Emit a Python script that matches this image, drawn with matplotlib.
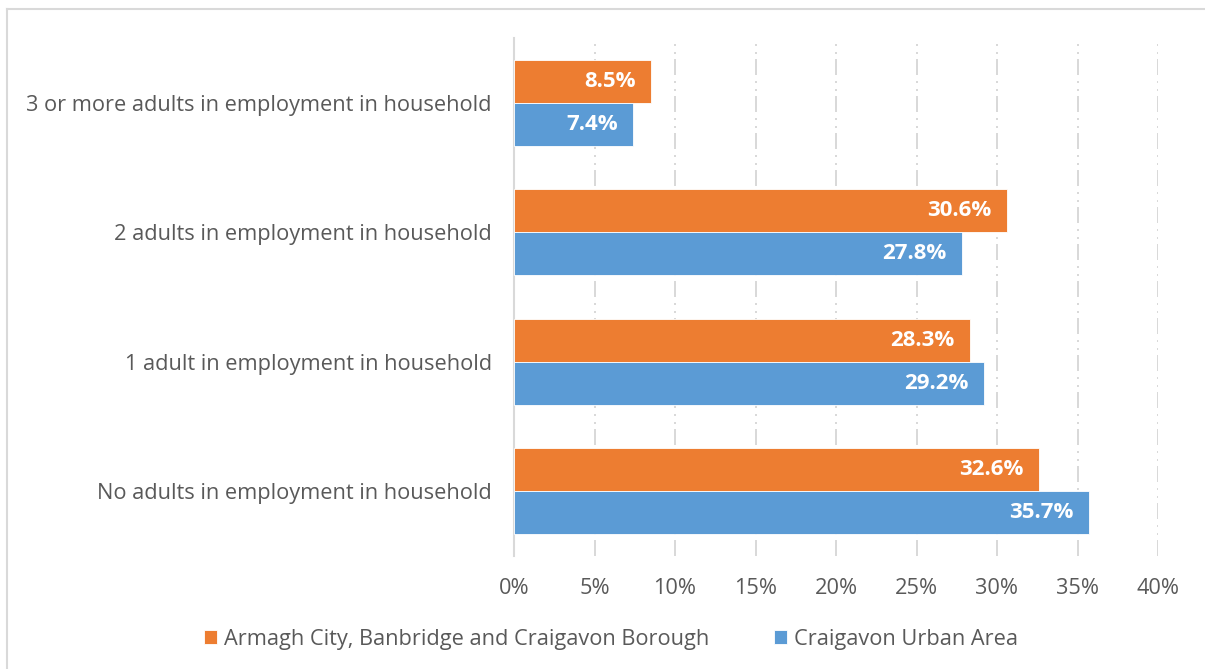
import matplotlib.pyplot as plt
from matplotlib.lines import Line2D
import numpy as np

categories = ["No adults in employment in household",
              "1 adult in employment in household",
              "2 adults in employment in household",
              "3 or more adults in employment in household"]
armagh = [32.6, 28.3, 30.6, 8.5]
craigavon = [35.7, 29.2, 27.8, 7.4]
series_names = ["Armagh City, Banbridge and Craigavon Borough", "Craigavon Urban Area"]
xticks = [0, 5, 10, 15, 20, 25, 30, 35, 40]

orange = "#ED7D31"
blue = "#5B9BD5"
grey_txt = "#595959"
grid_col = "#D9D9D9"

plt.rcParams['font.family'] = ['Open Sans', 'DejaVu Sans']

fig = plt.figure(figsize=(12.05, 6.69), dpi=100)
ax = fig.add_axes([514 / 1205, 1 - 556 / 669, (1158 - 514) / 1205, (556 - 38) / 669])

y = np.arange(len(categories))
h = 0.333
b1 = ax.barh(y + h / 2, armagh, height=h, color=orange, edgecolor="white", linewidth=0.6,
             label=series_names[0], zorder=3)
b2 = ax.barh(y - h / 2, craigavon, height=h, color=blue, edgecolor="white", linewidth=0.6,
             label=series_names[1], zorder=3)

for bars, vals in ((b1, armagh), (b2, craigavon)):
    for bar, v in zip(bars, vals):
        ax.annotate("%.1f%%" % v, (v, bar.get_y() + bar.get_height() / 2),
                    xytext=(-11, 0), textcoords="offset points", ha="right", va="center",
                    color="white", fontsize=16, fontweight="bold", zorder=4)

ax.set_xlim(0, 40)
ax.set_ylim(-0.5, len(categories) - 0.5)
ax.set_xticks(xticks)
ax.set_xticklabels(["%d%%" % t for t in xticks])
ax.set_yticks(y)
ax.set_yticklabels(categories)
ax.tick_params(axis="both", length=0, labelsize=15.7, colors=grey_txt)
ax.tick_params(axis="x", pad=16)
ax.tick_params(axis="y", pad=16)

for s in ["top", "right", "bottom"]:
    ax.spines[s].set_visible(False)
ax.spines["left"].set_color(grid_col)
ax.spines["left"].set_linewidth(1.5)

for t in xticks[1:]:
    ax.axvline(t, color=grid_col, lw=1.44, ls=(0, (8, 2.5, 1, 3, 1, 3)), zorder=1)

leg = fig.legend(handles=[b1, b2], loc="center", bbox_to_anchor=(0.507, 1 - 639 / 669),
                 ncol=2, frameon=False, fontsize=15.7, handlelength=0.6, handleheight=0.6,
                 handletextpad=0.3, columnspacing=3.0)
for txt in leg.get_texts():
    txt.set_color(grey_txt)

# chart area border
fig.add_artist(Line2D([7 / 1205, 7 / 1205], [0, 1 - 9 / 669], color=grid_col, lw=1.5))
fig.add_artist(Line2D([7 / 1205, 1], [1 - 9 / 669, 1 - 9 / 669], color=grid_col, lw=1.5))

fig.savefig("out.png", dpi=100)
